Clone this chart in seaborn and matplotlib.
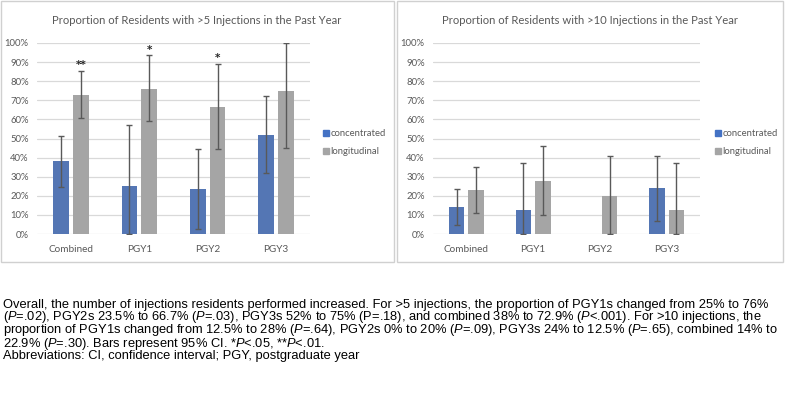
import matplotlib
matplotlib.use("Agg")
import matplotlib.pyplot as plt
import seaborn as sns
import pandas as pd
import numpy as np
from matplotlib.patches import Rectangle
from matplotlib.lines import Line2D

# ---------------- data ----------------
categories = ["Combined", "PGY1", "PGY2", "PGY3"]
groups = ["concentrated", "longitudinal"]

gt5_conc = [38, 25, 23.5, 52]
gt5_long = [72.9, 76, 66.7, 75]
gt5_conc_lo = [24.5, 0, 2.5, 32]
gt5_conc_hi = [51.5, 57, 44.5, 72]
gt5_long_lo = [60.5, 59, 44.5, 45]
gt5_long_hi = [85.5, 93.5, 89, 100]
gt5_stars = ["**", "*", "*", ""]

gt10_conc = [14, 12.5, 0, 24]
gt10_long = [22.9, 28, 20, 12.5]
gt10_conc_lo = [4.5, 0, np.nan, 7]
gt10_conc_hi = [23.5, 37, np.nan, 41]
gt10_long_lo = [11, 10, 0, 0]
gt10_long_hi = [35, 46, 41, 37]
gt10_stars = ["", "", "", ""]

titles = ["Proportion of Residents with >5 Injections in the Past Year",
          "Proportion of Residents with >10 Injections in the Past Year"]

caption_lines = [
    "Overall, the number of injections residents performed increased. For >5 injections, the proportion of PGY1s changed from 25% to 76%",
    "($\\mathit{P}$=.02), PGY2s 23.5% to 66.7% ($\\mathit{P}$=.03), PGY3s 52% to 75% (P=.18), and combined 38% to 72.9% ($\\mathit{P}$<.001). For >10 injections, the",
    "proportion of PGY1s changed from 12.5% to 28% ($\\mathit{P}$=.64), PGY2s 0% to 20% ($\\mathit{P}$=.09), PGY3s 24% to 12.5% ($\\mathit{P}$=.65), combined 14% to",
    "22.9% ($\\mathit{P}$=.30). Bars represent 95% CI. *$\\mathit{P}$<.05, **$\\mathit{P}$<.01.",
    "Abbreviations: CI, confidence interval; PGY, postgraduate year",
]

BLUE = "#4472C4"
GRAY = "#A5A5A5"
TXT = "#595959"
GRID = "#D9D9D9"

sns.set_theme(style="white")
plt.rcParams["font.family"] = ["Lato", "DejaVu Sans"]
plt.rcParams["mathtext.fontset"] = "custom"
plt.rcParams["mathtext.it"] = "Liberation Sans:italic"
plt.rcParams["mathtext.rm"] = "Liberation Sans"

W, H = 788, 409
fig = plt.figure(figsize=(W / 100, H / 100), dpi=100)
fig.patch.set_facecolor("white")


def fx(px):
    return px / W


def fy(py):
    return 1 - py / H


# panel frames
for x0, x1 in [(1, 394), (397, 783)]:
    fig.add_artist(Rectangle((fx(x0), fy(262)), fx(x1 - x0), (262 - 1) / H,
                             transform=fig.transFigure, fill=False,
                             edgecolor="#D0D0D0", linewidth=1.0))

panels = [
    dict(conc=gt5_conc, long=gt5_long, clo=gt5_conc_lo, chi=gt5_conc_hi,
         llo=gt5_long_lo, lhi=gt5_long_hi, stars=gt5_stars,
         rect=[fx(37), fy(234), fx(273), 191 / H], cx=197, lx=324),
    dict(conc=gt10_conc, long=gt10_long, clo=gt10_conc_lo, chi=gt10_conc_hi,
         llo=gt10_long_lo, lhi=gt10_long_hi, stars=gt10_stars,
         rect=[fx(433), fy(234), fx(267), 191 / H], cx=590, lx=716),
]

for i, p in enumerate(panels):
    ax = fig.add_axes(p["rect"])
    df = pd.DataFrame({
        "category": categories * 2,
        "group": [groups[0]] * 4 + [groups[1]] * 4,
        "value": list(p["conc"]) + list(p["long"]),
    })
    sns.barplot(data=df, x="category", y="value", hue="group",
                palette=[BLUE, GRAY], width=0.58, gap=0.2, errorbar=None,
                linewidth=0, ax=ax, legend=False, zorder=2)
    # error bars
    specs = [(p["conc"], p["clo"], p["chi"]), (p["long"], p["llo"], p["lhi"])]
    for cont, (vals, lo, hi) in zip(ax.containers, specs):
        xs = np.array([b.get_x() + b.get_width() / 2 for b in cont.patches])
        vals = np.array(vals, float)
        lo = np.array(lo, float)
        hi = np.array(hi, float)
        ok = ~np.isnan(lo)
        ax.errorbar(xs[ok], vals[ok], yerr=[vals[ok] - lo[ok], hi[ok] - vals[ok]],
                    fmt="none", ecolor=TXT, elinewidth=1.0, capsize=2.0,
                    capthick=1.0, zorder=3)
    # stars on longitudinal bars
    xs_long = [b.get_x() + b.get_width() / 2 for b in ax.containers[1].patches]
    for x, h, s in zip(xs_long, p["lhi"], p["stars"]):
        if s:
            ax.text(x, h + 0.3, s, ha="center", va="bottom", fontsize=7.5,
                    color="#262626", fontweight="bold", family=["DejaVu Sans"])
    ax.set_ylim(0, 100)
    ax.set_xlim(-0.5, 3.5)
    ax.set_yticks(np.arange(0, 101, 10))
    ax.set_yticklabels([f"{v}%" for v in range(0, 101, 10)])
    ax.yaxis.grid(True, color=GRID, linewidth=0.9, zorder=0)
    ax.set_axisbelow(True)
    for s in ax.spines.values():
        s.set_visible(False)
    ax.tick_params(axis="both", length=0, labelsize=6.8, colors=TXT, pad=6)
    ax.tick_params(axis="x", labelsize=7.2, pad=8)
    ax.set_xlabel("")
    ax.set_ylabel("")
    ax.set_facecolor("white")
    fig.text(fx(p["cx"]), fy(20), titles[i], ha="center", va="center",
             fontsize=8.1, color=TXT)
    handles = [Line2D([], [], marker="s", linestyle="none", markersize=4.5,
                      color=BLUE),
               Line2D([], [], marker="s", linestyle="none", markersize=4.5,
                      color=GRAY)]
    fig.legend(handles, groups, loc="upper left",
               bbox_to_anchor=(fx(p["lx"]), fy(129)), frameon=False,
               fontsize=6.8, labelcolor=TXT, handlelength=0.5,
               handletextpad=0.15, labelspacing=1.0, borderaxespad=0,
               borderpad=0)

# caption
fig.text(fx(3), fy(299.0), "\n".join(caption_lines), ha="left",
         va="top", fontsize=9.3, color="black", linespacing=0.78,
         family=["Liberation Sans"])

fig.savefig("out.png", dpi=100, facecolor="white")
